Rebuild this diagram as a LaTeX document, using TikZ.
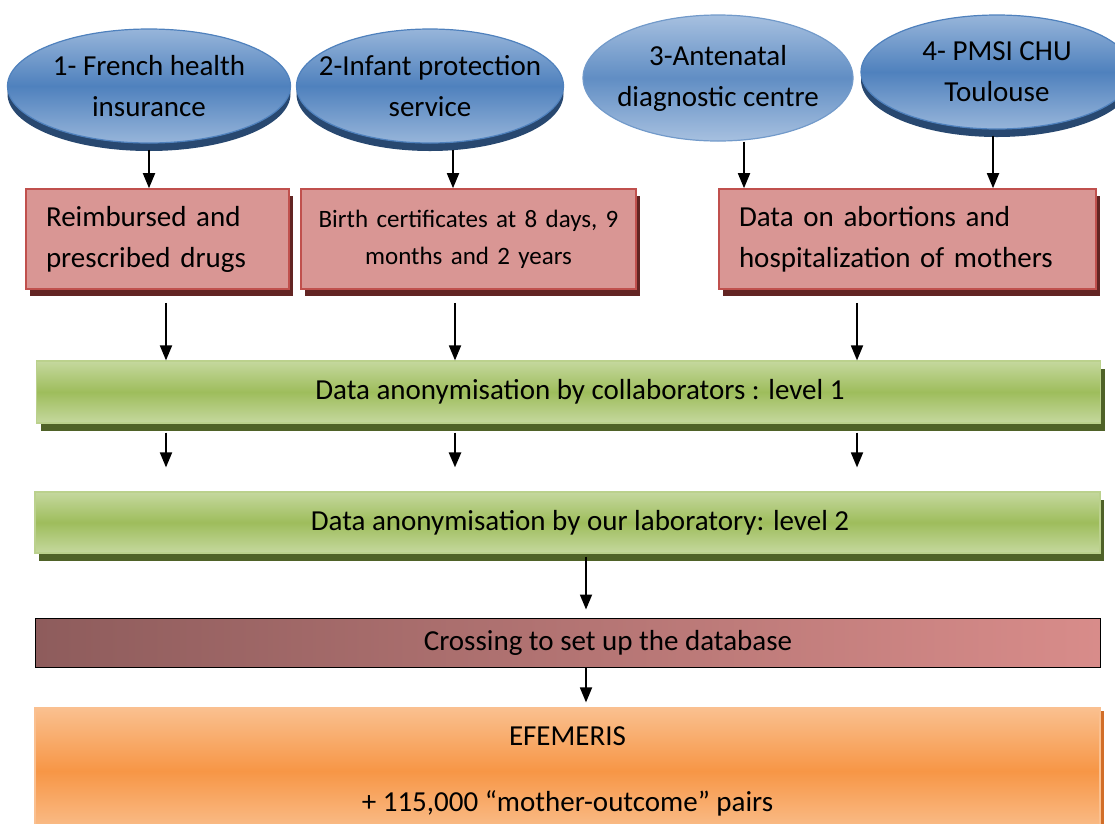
\documentclass[tikz,border=0pt]{standalone}
\usepackage{fontspec}
\setmainfont{Carlito}
\usepackage{xcolor}
\usepackage{tikz}
\usetikzlibrary{shapes.geometric, arrows.meta, positioning, shadows}
\definecolor{ellblue}{RGB}{79,129,189}
\definecolor{elllight}{RGB}{151,181,218}
\definecolor{ellshadow}{RGB}{40,72,112}
\definecolor{boxpink}{RGB}{217,150,148}
\definecolor{boxborder}{RGB}{192,80,77}
\definecolor{boxshadow}{RGB}{99,37,35}
\definecolor{barlight}{RGB}{197,216,158}
\definecolor{bargreen}{RGB}{158,189,92}
\definecolor{barshadow}{RGB}{79,98,40}
\definecolor{crossdark}{RGB}{142,92,92}
\definecolor{crosslight}{RGB}{216,140,138}
\definecolor{orangelight}{RGB}{250,192,143}
\definecolor{orangemid}{RGB}{247,150,70}
\definecolor{orangeshadow}{RGB}{210,110,40}

\begin{document}
\begin{tikzpicture}[x=1pt, y=-1pt,
    source/.style={ellipse, draw=ellblue, line width=1.2pt, top color=elllight, bottom color=elllight, middle color=ellblue, align=center, inner xsep=-40pt, inner ysep=-10pt, font=\fontsize{29}{41}\selectfont},
    raised/.style={drop shadow={shadow xshift=0pt, shadow yshift=-8pt, fill=ellshadow, opacity=1}},
    datasrc/.style={rectangle, draw=boxborder, line width=1.6pt, fill=boxpink, inner xsep=20pt, minimum height=100pt, drop shadow={shadow xshift=4pt, shadow yshift=-7pt, fill=boxshadow, opacity=1}, font=\fontsize{29}{41}\selectfont},
    stage/.style={rectangle, draw=bargreen!70!white, line width=1.2pt, top color=barlight, bottom color=barlight, middle color=bargreen, minimum width=1064pt, drop shadow={shadow xshift=4pt, shadow yshift=-8pt, fill=barshadow, opacity=1}, font=\fontsize{29}{41}\selectfont},
    arr/.style={-{Triangle[width=12pt,length=15pt]}, line width=1.8pt}]
    \useasboundingbox (0,0) rectangle (1115,823);

    % Sources
    \node[source, raised, minimum width=283pt, minimum height=114pt] (fhi) at (149,86) {1- French health\\insurance};
    \node[source, raised, minimum width=267pt, minimum height=114pt] (ips) at (430,86) {2-Infant protection\\service};
    \node[source, draw=ellblue!80!white, top color=elllight!85!white, bottom color=elllight!85!white, middle color=ellblue!90!white, minimum width=270pt, minimum height=126pt] (adc) at (718,78) {3-Antenatal\\diagnostic centre};
    \node[source, raised, minimum width=272pt, minimum height=114pt] (pmsi) at (997,72) {4- PMSI CHU\\Toulouse};

    % Data
    \node[datasrc, text width=223pt, align=left] (drugs) at (157.5,239) {Reimbursed and\\prescribed drugs};
    \node[datasrc, inner xsep=8pt, text width=319pt, align=center, font=\fontsize{25}{37}\selectfont] (births) at (468.5,239) {Birth certificates at 8 days, 9\\months and 2 years};
    \node[datasrc, text width=337pt, align=left] (abort) at (907.5,239) {Data on abortions and\\hospitalization of mothers};

    % Anonymisation
    \node[stage, minimum height=62pt] (level1) at (568.5,392) {\hspace*{23pt}Data anonymisation by collaborators : level 1};
    \node[stage, minimum width=1065pt, minimum height=61pt] (level2) at (567.5,522.5) {\hspace*{25pt}Data anonymisation by our laboratory: level 2};

    % Database
    \node[rectangle, draw=black, line width=1pt, left color=crossdark, right color=crosslight, minimum width=1065pt, minimum height=49pt, font=\fontsize{29}{41}\selectfont] (cross) at (567.5,642.5) {\hspace*{81pt}Crossing to set up the database};
    \node[rectangle, draw=orangemid!60!white, line width=1.2pt, top color=orangelight, bottom color=orangelight, middle color=orangemid, minimum width=1065pt, minimum height=126pt, align=center, drop shadow={shadow xshift=4pt, shadow yshift=-3pt, fill=orangeshadow, opacity=1}, font=\fontsize{29}{41}\selectfont] (efemeris) at (567.5,771) {EFEMERIS\\[25pt]+ 115,000 “mother-outcome” pairs};

    % Columns
    \coordinate (colA) at (166,0);
    \coordinate (colB) at (455,0);
    \coordinate (colC) at (857,0);
    \coordinate (colD) at (586,0);

    % Arrows
    \draw[arr, shorten <=6pt] (fhi.south) -- (fhi.south |- drugs.north);
    \draw[arr, shorten <=6pt] ([xshift=23pt]ips.south) -- ([xshift=23pt]ips.south |- births.north);
    \draw[arr] ([xshift=26pt]adc.south) -- ([xshift=26pt]adc.south |- abort.north);
    \draw[arr, shorten <=6pt] ([xshift=-4pt]pmsi.south) -- ([xshift=-4pt]pmsi.south |- abort.north);

    \draw[arr, shorten <=13pt] (drugs.south -| colA) -- (level1.north -| colA);
    \draw[arr, shorten <=13pt] (births.south -| colB) -- (level1.north -| colB);
    \draw[arr, shorten <=13pt] (abort.south -| colC) -- (level1.north -| colC);

    \draw[arr, shorten <=9pt, shorten >=24pt] (level1.south -| colA) -- (level2.north -| colA);
    \draw[arr, line width=2.6pt, shorten <=9pt, shorten >=24pt] (level1.south -| colB) -- (level2.north -| colB);
    \draw[arr, shorten <=9pt, shorten >=24pt] (level1.south -| colC) -- (level2.north -| colC);

    \draw[arr, shorten <=3pt, shorten >=8pt] (level2.south -| colD) -- (cross.north -| colD);
    \draw[arr, shorten >=5pt] (cross.south -| colD) -- (efemeris.north -| colD);
\end{tikzpicture}
\end{document}
